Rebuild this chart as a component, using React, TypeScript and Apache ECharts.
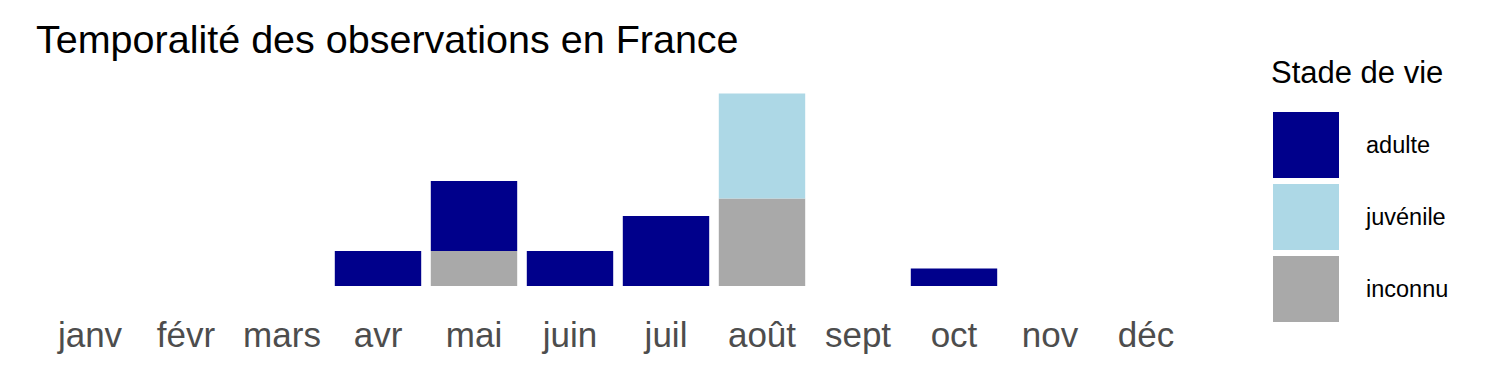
import React, { useEffect, useRef } from "react";
import * as echarts from "echarts";

const months = ["janv", "févr", "mars", "avr", "mai", "juin", "juil", "août", "sept", "oct", "nov", "déc"];
const adulte = [0, 0, 0, 2, 4, 2, 4, 0, 0, 1, 0, 0];
const juvenile = [0, 0, 0, 0, 0, 0, 0, 6, 0, 0, 0, 0];
const inconnu = [0, 0, 0, 0, 2, 0, 0, 5, 0, 0, 0, 0];
const legendOrder = ["adulte", "juvénile", "inconnu"];

const FONT = "'Liberation Sans', Arial, sans-serif";

export default function App() {
  const ref = useRef<HTMLDivElement>(null);
  useEffect(() => {
    if (!ref.current) return;
    const chart = echarts.init(ref.current, undefined, { renderer: "svg" });
    const toData = (arr: number[]) => arr.map((v) => (v === 0 ? null : v));
    chart.setOption({
      animation: false,
      backgroundColor: "#ffffff",
      textStyle: { fontFamily: FONT },
      title: [
        {
          text: "Temporalité des observations en France",
          left: 36,
          top: 19,
          padding: 0,
          textStyle: { fontFamily: FONT, fontSize: 39.5, fontWeight: "normal", color: "#000000" },
        },
        {
          text: "Stade de vie",
          left: 1271,
          top: 57,
          padding: 0,
          textStyle: { fontFamily: FONT, fontSize: 31, fontWeight: "normal", color: "#000000" },
        },
      ],
      legend: {
        data: legendOrder,
        orient: "vertical",
        left: 1273,
        top: 112,
        padding: 0,
        icon: "rect",
        itemWidth: 66,
        itemHeight: 66,
        itemGap: 6,
        selectedMode: false,
        textStyle: { fontFamily: FONT, fontSize: 23.5, color: "#000000", padding: [8, 0, 0, 22] },
      },
      grid: { left: 42, width: 1152, top: 93.5, height: 192.5, containLabel: false },
      xAxis: {
        type: "category",
        data: months,
        axisLine: { show: false },
        axisTick: { show: false },
        splitLine: { show: false },
        axisLabel: { color: "#4D4D4D", fontSize: 35, fontFamily: FONT, margin: 31, interval: 0 },
      },
      yAxis: {
        type: "value",
        min: 0,
        max: 11,
        show: false,
        splitLine: { show: false },
      },
      series: [
        {
          name: "inconnu",
          type: "bar",
          stack: "total",
          barWidth: "90%",
          itemStyle: { color: "#A9A9A9" },
          data: toData(inconnu),
        },
        {
          name: "juvénile",
          type: "bar",
          stack: "total",
          barWidth: "90%",
          itemStyle: { color: "#ADD8E6" },
          data: toData(juvenile),
        },
        {
          name: "adulte",
          type: "bar",
          stack: "total",
          barWidth: "90%",
          itemStyle: { color: "#00008B" },
          data: toData(adulte),
        },
      ],
    });
    return () => chart.dispose();
  }, []);
  return (
    <div
      ref={ref}
      style={{ position: "fixed", left: 0, top: 0, width: 1500, height: 375 }}
    />
  );
}
